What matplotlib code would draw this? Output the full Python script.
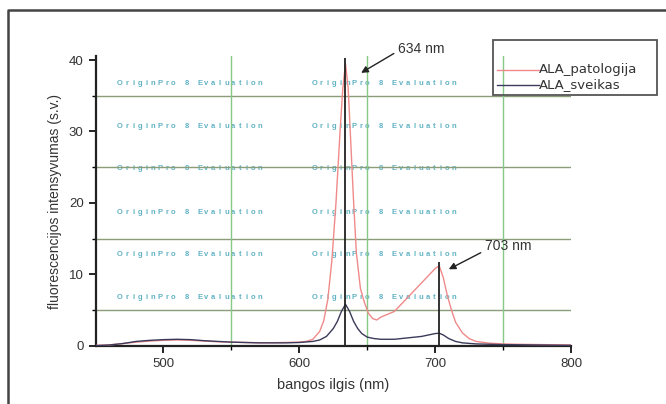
import numpy as np
import matplotlib.pyplot as plt
from matplotlib.patches import Rectangle
from matplotlib.lines import Line2D

# fluorescence spectra, wavelength in nm
wl_pat = [450, 460, 470, 480, 490, 500, 510, 520, 530, 540, 550, 560, 570, 580, 590,
          600, 605, 610, 615, 618, 621, 624, 627, 630, 632, 634, 636, 638, 640, 642,
          645, 648, 651, 654, 657, 660, 665, 670, 675, 680, 685, 690, 695, 700, 703,
          706, 709, 712, 715, 720, 725, 730, 740, 750, 760, 780, 800]
ala_patologija = [0.05, 0.1, 0.3, 0.5, 0.65, 0.75, 0.8, 0.75, 0.65, 0.55, 0.5, 0.45, 0.42, 0.42, 0.45,
                  0.5, 0.6, 0.9, 2.0, 3.5, 6.5, 12, 20, 30, 36, 39.5, 36, 28, 20, 13,
                  8, 6, 4.5, 3.8, 3.6, 4.0, 4.4, 4.8, 5.8, 6.8, 7.8, 8.8, 9.8, 10.8, 11.2,
                  9.5, 7, 5, 3.3, 1.8, 1.0, 0.6, 0.35, 0.25, 0.2, 0.15, 0.1]

wl_sv = [450, 460, 470, 480, 490, 500, 510, 520, 530, 540, 550, 560, 570, 580, 590,
         600, 610, 615, 620, 625, 628, 631, 634, 637, 640, 643, 646, 650, 655, 660,
         670, 680, 690, 695, 700, 703, 706, 710, 715, 720, 730, 750, 800]
ala_sveikas = [0.0, 0.1, 0.3, 0.6, 0.75, 0.85, 0.9, 0.85, 0.7, 0.6, 0.5, 0.45, 0.4, 0.4, 0.4,
               0.45, 0.6, 0.8, 1.3, 2.4, 3.4, 4.8, 5.8, 4.8, 3.4, 2.4, 1.7, 1.2, 1.0, 0.9,
               0.9, 1.1, 1.3, 1.5, 1.7, 1.75, 1.5, 1.0, 0.6, 0.4, 0.25, 0.15, 0.05]

peak_wl = [634, 703]
peak_top = [40.3, 11.7]
peak_labels = ["634 nm", "703 nm"]

xticks = [500, 600, 700, 800]
yticks = [0, 10, 20, 30, 40]

plt.rcParams['font.family'] = ['Liberation Sans', 'DejaVu Sans']

fig = plt.figure(figsize=(6.66, 4.04), dpi=100)
ax = fig.add_axes([0.1434, 0.1443, 0.714, 0.716])

# evaluation watermark rows
wm = "OriginPro 8 Evaluation"
for yrow in [36.7, 30.7, 24.8, 18.7, 12.7, 6.7]:
    for x0, x1 in [(468, 571), (611, 714)]:
        for cx, ch in zip(np.linspace(x0, x1, len(wm)), wm):
            ax.text(cx, yrow, ch, fontsize=5.5, fontweight='bold', color='#3a9fb5',
                    ha='center', va='center', alpha=0.8, zorder=1)

for yv in [5, 15, 25, 35]:
    ax.axhline(yv, color='#8a9c78', lw=1.0, zorder=1)
for xv in [550, 650, 750]:
    ax.axvline(xv, color='#86c986', lw=1.0, zorder=1)

ax.plot(wl_pat, ala_patologija, color='#f08a8a', lw=1.0, zorder=3)
ax.plot(wl_sv, ala_sveikas, color='#3a3a5a', lw=1.0, zorder=3)

# peak markers
ax.vlines(peak_wl, 0, peak_top, color='#222222', lw=1.3, zorder=4)

ax.annotate(peak_labels[0], xy=(645.5, 38.2), xytext=(673, 41.5), fontsize=10,
            color='#333333', va='center', annotation_clip=False,
            arrowprops=dict(arrowstyle='-|>', color='#222222', lw=1.0,
                            mutation_scale=10, shrinkA=0, shrinkB=0,
                            relpos=(-0.1, 0.2)))
ax.annotate(peak_labels[1], xy=(710, 10.7), xytext=(737, 14.0), fontsize=10,
            color='#333333', va='center', annotation_clip=False,
            arrowprops=dict(arrowstyle='-|>', color='#222222', lw=1.0,
                            mutation_scale=10, shrinkA=0, shrinkB=0,
                            relpos=(-0.1, 0.0)))

ax.set_xlim(450, 800)
ax.set_ylim(0, 40.5)
ax.set_xticks(xticks)
ax.set_yticks(yticks)
ax.set_xticks([550, 650, 750], minor=True)
ax.set_yticks([5, 15, 25, 35], minor=True)
ax.tick_params(which='major', direction='out', length=5, width=1.2,
               labelsize=9.5, labelcolor='#333333')
ax.tick_params(which='minor', direction='out', length=3, width=1.0)
for s in ['top', 'right']:
    ax.spines[s].set_visible(False)
for s in ['left', 'bottom']:
    ax.spines[s].set_linewidth(1.6)
    ax.spines[s].set_color('#222222')
ax.set_xlabel("bangos ilgis (nm)", fontsize=10.5, color='#333333', labelpad=6)
ax.set_ylabel("fluorescencijos intensyvumas (s.v.)", fontsize=10,
              color='#333333', labelpad=5)

# legend box
fig.patches.append(Rectangle((493 / 666, 1 - 95 / 404), 164 / 666, 55 / 404,
                             transform=fig.transFigure, fill=False,
                             edgecolor='#555555', lw=1.3))
for yy, col, lab in [(69.5, '#f08a8a', "ALA_patologija"), (85, '#3a3a5a', "ALA_sveikas")]:
    fig.lines.append(Line2D([497 / 666, 539 / 666], [1 - yy / 404] * 2,
                            transform=fig.transFigure, color=col, lw=1.0))
    fig.text(539 / 666, 1 - yy / 404, lab, fontsize=9.5, family='DejaVu Sans',
             color='#333333', va='center')

# outer frame
fig.lines.append(Line2D([8 / 666, 8 / 666, 1], [0, 1 - 10 / 404, 1 - 10 / 404],
                        transform=fig.transFigure, color='#444444', lw=1.8))

fig.savefig("out.png", dpi=100)
